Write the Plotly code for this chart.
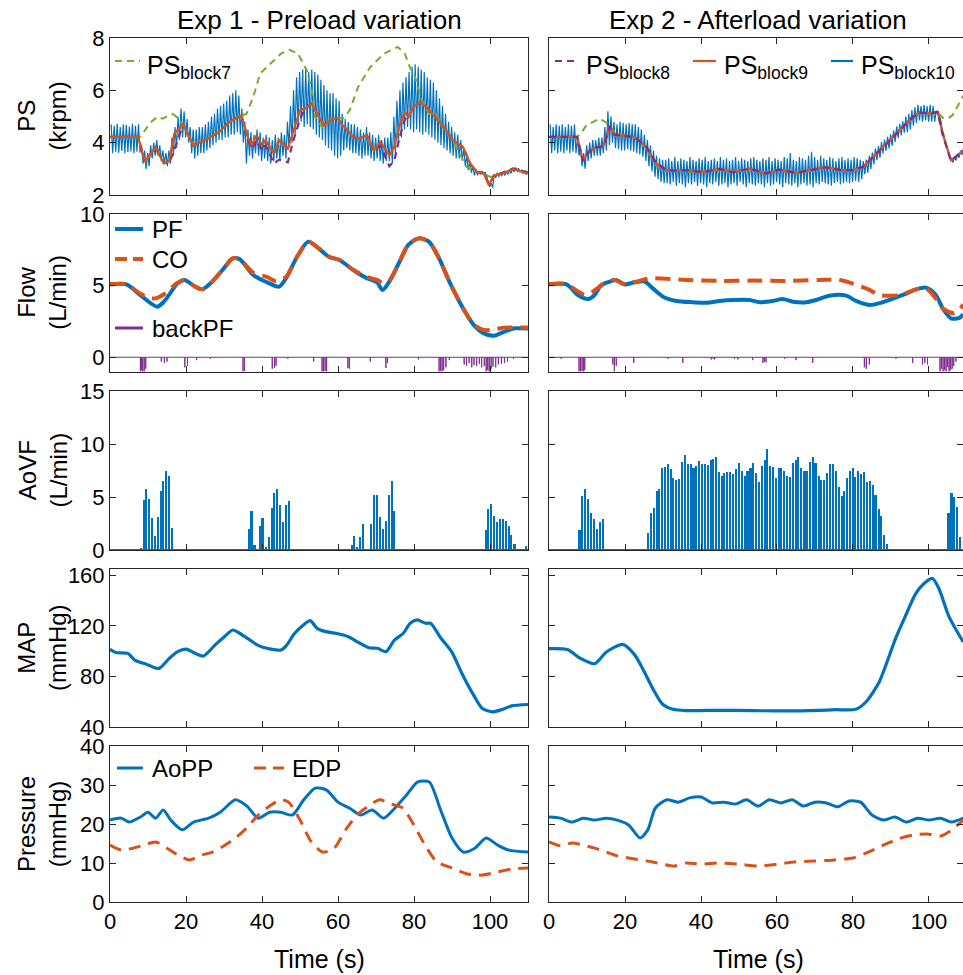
import numpy as np
import plotly.graph_objects as go

W, H = 963, 975
BLUE = '#0072BD'; ORANGE = '#D95319'; PURPLE = '#7E2F8E'; GREEN = '#77AC30'
AXC = '#262626'
FONT = 'Liberation Sans, Arial, sans-serif'

# ---------------- DATA ----------------
# PS (krpm), Exp 1
t_ps7_L = [0, 7.8, 9.2, 10.5, 12.4, 13.8, 16.5, 17.4, 19.2, 21.9, 25, 28.7, 31.4, 34.6, 35.9, 37.7, 39.5, 42.3, 45, 47.2,
           49.5, 51.8, 53.1, 54, 55.8, 58.6, 61.3, 63.1, 65.3, 68.5, 72.1, 75.7, 77.6, 78.9, 80.3, 82.1, 83.9, 85.7, 87.5, 90.2,
           93.8, 96.6, 98.4, 100.2, 101.5, 103.8, 106, 110]
ps7_L = [4.22, 4.22, 4.47, 4.75, 4.98, 4.92, 5.1, 5.0, 4.7, 3.95, 4.1, 4.42, 4.8, 5.04, 5.1, 5.75, 6.64, 7.02, 7.4, 7.55,
         7.4, 6.76, 6.0, 4.98, 4.6, 4.98, 4.92, 5.24, 6.13, 6.89, 7.4, 7.66, 7.4, 6.89, 6.5, 5.6, 5.1, 5.1, 4.6, 4.1,
         3.07, 2.88, 2.8, 2.69, 2.75, 2.88, 3.0, 2.88]
t_ps9_L = [0, 7.4, 9.2, 11.9, 14.2, 15.6, 16.9, 19.2, 21.9, 25, 28.7, 31.4, 34.6, 35.9, 37.3, 38.6, 40, 40.9, 43.2, 44.5,
           46.8, 48.1, 50, 51.3, 53.1, 54.5, 56.3, 58.6, 59.9, 61.3, 64, 65.3, 67.6, 69.4, 71.2, 73.5, 74.8, 76.2, 77.6, 78.5,
           79.8, 81.6, 83, 84.8, 87.5, 90.2, 92.9, 94.8, 96.6, 98.4, 99.7, 101.1, 103.3, 106, 110]
ps9_L = [4.22, 4.22, 3.26, 3.83, 3.2, 3.3, 4.34, 4.7, 3.9, 4.09, 4.4, 4.79, 5.04, 4.34, 3.9, 4.28, 3.9, 4.09, 3.58, 4.09,
         3.77, 4.34, 5.24, 5.3, 5.5, 5.1, 4.66, 4.92, 4.92, 4.66, 4.22, 4.15, 4.28, 3.7, 4.03, 3.52, 3.83, 4.66, 5.17, 4.98,
         5.36, 5.55, 5.4, 5.1, 4.66, 4.09, 3.83, 3.2, 2.88, 2.82, 2.37, 2.75, 2.82, 2.99, 2.82]
ps8_L = [4.22, 4.22, 3.28, 3.8, 3.22, 3.25, 3.7, 4.7, 3.9, 4.09, 4.4, 4.79, 5.04, 4.34, 3.75, 4.1, 3.7, 3.9, 3.2, 3.35,
         3.25, 4.0, 4.9, 5.3, 5.5, 5.1, 4.66, 4.92, 4.92, 4.66, 4.22, 4.15, 4.28, 3.7, 3.9, 3.1, 3.3, 4.2, 4.9, 4.98,
         5.36, 5.55, 5.4, 5.1, 4.66, 4.09, 3.83, 3.2, 2.88, 2.85, 2.4, 2.75, 2.85, 3.02, 2.85]
# PS block10 per-beat maxima / minima, Exp 1 (beat period 0.8 s)
ps10_hi_L = [4.7, 4.65, 4.72, 4.6, 4.7, 4.68, 4.62, 4.72, 4.65, 4.7,
             3.9, 3.7, 3.6, 3.9, 4.0, 4.1, 3.9, 3.7, 3.6, 3.7,
             4.2, 4.6, 5.0, 5.3, 5.2, 4.9, 4.6, 4.5, 4.5, 4.6, 4.6,
             4.7, 4.8, 5.0, 5.1, 5.3, 5.4, 5.5, 5.6, 5.8, 5.9, 6.0, 5.8, 5.3, 4.8,
             4.5, 4.4, 4.3, 4.5, 4.4, 4.2, 4.3, 4.2, 4.1, 4.3, 4.2, 4.4, 4.3,
             4.8, 5.4, 6.0, 6.5, 6.7, 6.8, 6.8, 6.7, 6.8, 6.7, 6.6, 6.4, 6.2, 6.0,
             5.9, 5.9, 5.7, 5.6, 5.1, 4.9, 4.8, 4.7,
             4.7, 4.6, 4.5, 4.4, 4.6, 4.4, 4.3, 4.2, 4.3, 4.1, 4.2,
             4.2, 4.4, 5.0, 5.6, 6.0, 6.3, 6.5, 6.7, 6.9, 7.0, 6.9, 6.8, 6.7, 6.5, 6.4, 6.3,
             6.0, 5.7, 5.4, 5.1, 4.8, 4.6, 4.4, 4.3, 4.1, 3.8, 3.5, 3.3, 3.1, 3.0,
             2.92, 2.9, 2.88, 2.5, 2.45, 2.8, 2.85, 2.86, 2.88, 2.9, 2.95, 3.0, 3.05, 3.02, 2.95, 2.9, 2.88]
ps10_lo_L = [3.6, 3.65, 3.62, 3.68, 3.6, 3.64, 3.66, 3.6, 3.65, 3.62,
             3.2, 3.0, 3.1, 3.4, 3.5, 3.5, 3.3, 3.2, 3.1, 3.2,
             3.5, 3.8, 4.1, 4.2, 4.2, 4.0, 3.6, 3.4, 3.5, 3.6, 3.6,
             3.7, 3.8, 3.9, 4.0, 4.1, 4.1, 4.2, 4.2, 4.3, 4.3, 4.4, 4.3, 4.0, 3.2,
             3.5, 3.4, 3.6, 3.5, 3.3, 3.4, 3.3, 3.2, 3.3, 3.4, 3.3, 3.5, 3.4,
             3.8, 4.0, 4.3, 4.6, 4.8, 4.6, 4.7, 4.6, 4.5, 4.3, 4.2, 4.1, 3.9, 3.8,
             3.7, 3.5, 3.4, 3.5, 3.7, 3.8, 3.7, 3.6,
             3.6, 3.5, 3.4, 3.5, 3.5, 3.4, 3.3, 3.4, 3.3, 3.2, 3.3,
             3.3, 3.2, 3.6, 4.0, 4.2, 4.5, 4.6, 4.5, 4.4, 4.5, 4.4, 4.3, 4.4, 4.3, 4.2, 4.1,
             4.0, 3.9, 3.8, 3.7, 3.6, 3.5, 3.4, 3.4, 3.3, 3.1, 2.95, 2.85, 2.75, 2.75,
             2.78, 2.76, 2.74, 2.3, 2.28, 2.66, 2.7, 2.72, 2.74, 2.78, 2.82, 2.88, 2.92, 2.9, 2.82, 2.78, 2.75]

# PS (krpm), Exp 2
t_ps7_R = [0, 7.4, 8.6, 9.8, 13.3, 15.5, 17.3, 19.5, 22.5, 25.6, 28.2, 30.9, 33.5, 36.1, 40.5, 44.9, 48.4, 52.8, 57.1, 60.6,
           65, 69.4, 72.9, 76.4, 79.9, 82.6, 86.1, 89.6, 93.1, 95.7, 97.5, 100.1, 102.3, 103.6, 104.9, 106.2, 108.4, 109]
ps7_R = [4.22, 4.22, 4.4, 4.66, 4.92, 4.73, 4.4, 4.3, 4.2, 3.8, 3.15, 2.92, 2.95, 2.9, 2.9, 2.98, 2.9, 2.98, 2.85, 2.94,
         2.86, 2.94, 3.05, 2.97, 2.93, 3.05, 3.6, 4.12, 4.62, 5.0, 5.15, 5.12, 5.15, 4.95, 4.92, 5.05, 5.62, 5.8]
t_ps9_R = [0, 7.4, 8.9, 10.3, 12.4, 14.2, 14.7, 16, 17.3, 19.5, 22.5, 25.6, 28.2, 30.9, 33.5, 36.1, 40.5, 44.9, 48.4, 52.8,
           57.1, 60.6, 65, 69.4, 72.9, 76.4, 79.9, 82.6, 86.1, 89.6, 93.1, 95.7, 97.5, 100.1, 102.3, 103.6, 105.8, 108, 109]
ps9_R = [4.22, 4.22, 3.32, 3.64, 3.83, 3.85, 4.05, 4.66, 4.28, 4.28, 4.22, 3.83, 3.2, 2.94, 2.92, 2.94, 2.88, 3.0, 2.88, 3.0,
         2.82, 2.96, 2.84, 2.96, 3.07, 2.95, 2.95, 3.07, 3.58, 4.09, 4.6, 4.98, 5.17, 5.1, 5.17, 4.34, 3.32, 3.58, 3.7]
ps8_R = [4.22, 4.22, 3.3, 3.62, 3.82, 3.86, 4.0, 4.62, 4.3, 4.27, 4.2, 3.85, 3.22, 2.95, 2.93, 2.95, 2.87, 3.0, 2.87, 3.01,
         2.83, 2.97, 2.85, 2.97, 3.06, 2.96, 2.95, 3.08, 3.56, 4.07, 4.6, 4.97, 5.16, 5.11, 5.17, 4.3, 3.3, 3.56, 3.7]
ps10_hi_R = [4.7, 4.6, 4.7, 4.65, 4.7, 4.6, 4.7, 4.65, 4.7,
             4.2, 3.8, 3.6, 3.9, 4.0, 4.1, 4.1, 4.2, 4.2, 4.6, 5.2, 5.0,
             4.8, 4.7, 4.8, 4.75, 4.7, 4.75, 4.7, 4.7, 4.6, 4.5,
             4.3, 4.1, 3.9, 3.7, 3.5, 3.4, 3.35,
             3.35, 3.4, 3.3, 3.45, 3.3, 3.4, 3.35, 3.3, 3.45, 3.35,
             3.3, 3.4, 3.35, 3.45, 3.3, 3.35, 3.4, 3.3, 3.45, 3.35,
             3.4, 3.3, 3.35, 3.45, 3.3, 3.4, 3.35, 3.3, 3.4, 3.45,
             3.35, 3.3, 3.4, 3.35, 3.45, 3.3, 3.4, 3.35, 3.3, 3.45,
             3.4, 3.6, 3.35, 3.3, 3.45, 3.4, 3.35, 3.5, 3.65, 3.45,
             3.35, 3.5, 3.4, 3.35, 3.45, 3.4, 3.3, 3.4, 3.45, 3.35,
             3.4, 3.35, 3.45, 3.4, 3.35,
             3.3, 3.35, 3.5, 3.62, 3.77, 3.87, 4.02, 4.12, 4.22, 4.32, 4.47, 4.62, 4.72, 4.82,
             5.0, 5.1, 5.25, 5.35, 5.45, 5.4, 5.45, 5.4, 5.45, 5.4,
             5.23, 5.03, 4.48, 4.03, 3.63, 3.4, 3.48, 3.58, 3.7, 3.8]
ps10_lo_R = [3.6, 3.7, 3.6, 3.65, 3.6, 3.7, 3.6, 3.65, 3.6,
             3.5, 3.1, 3.0, 3.3, 3.4, 3.5, 3.5, 3.5, 3.6, 3.7, 3.9, 4.0,
             3.8, 3.75, 3.7, 3.7, 3.75, 3.7, 3.65, 3.6, 3.55, 3.45,
             3.3, 3.1, 2.9, 2.7, 2.6, 2.5, 2.45,
             2.45, 2.4, 2.5, 2.35, 2.45, 2.4, 2.3, 2.45, 2.4, 2.5,
             2.35, 2.45, 2.4, 2.3, 2.45, 2.4, 2.5, 2.35, 2.4, 2.45,
             2.3, 2.4, 2.45, 2.35, 2.5, 2.4, 2.3, 2.45, 2.4, 2.35,
             2.45, 2.4, 2.3, 2.45, 2.35, 2.4, 2.5, 2.4, 2.3, 2.45,
             2.4, 2.35, 2.45, 2.3, 2.4, 2.45, 2.35, 2.4, 2.3, 2.45,
             2.4, 2.5, 2.45, 2.4, 2.35, 2.45, 2.5, 2.4, 2.45, 2.5,
             2.45, 2.5, 2.55, 2.5, 2.6,
             2.8, 2.85, 3.0, 3.18, 3.33, 3.43, 3.58, 3.68, 3.78, 3.88, 4.03, 4.18, 4.28, 4.38,
             4.4, 4.5, 4.65, 4.75, 4.85, 4.8, 4.85, 4.8, 4.8, 4.8,
             5.07, 4.87, 4.32, 3.87, 3.47, 3.24, 3.32, 3.42, 3.54, 3.64]
BEAT0, BEAT = 0.3, 0.8

# Flow (L/min)
t_pf_L = [0, 4.3, 7.9, 12.4, 14.2, 17.8, 19.6, 22.4, 24.2, 26.9, 29.6, 32.3, 34.1, 37.7, 41.4, 44.5, 46.3, 49.5, 52.2, 54.9,
          57.6, 60.4, 64, 67.6, 70.3, 71.7, 73.5, 76.2, 78.5, 81.2, 83.9, 86.6, 89.3, 92.9, 95.7, 98.4, 101.1, 103.8, 106.5, 110]
pf_L = [5.09, 5.09, 4.35, 3.53, 3.88, 5.16, 5.4, 4.93, 4.74, 5.28, 6.09, 6.9, 6.85, 5.74, 5.23, 4.93, 5.51, 7.14, 8.07, 7.6,
        7.02, 6.79, 6.09, 5.51, 5.23, 4.7, 5.28, 6.67, 7.84, 8.3, 8.07, 6.9, 5.28, 3.42, 2.26, 1.67, 1.51, 1.79, 2.02, 2.0]
t_co_L = [0, 4.3, 7.9, 10.6, 12.4, 14.2, 17.8, 19.6, 22.4, 24.2, 26.9, 29.6, 32.3, 34.1, 37.7, 41.4, 43.8, 46.3, 49.5, 52.2,
          54.9, 57.6, 60.4, 64, 67.6, 70.3, 71.7, 73.5, 76.2, 78.5, 81.2, 83.9, 86.6, 89.3, 92.9, 95.7, 98.4, 101.1, 103.8, 106.5, 110]
co_L = [5.09, 5.09, 4.45, 4.12, 4.15, 4.4, 5.2, 5.4, 4.93, 4.74, 5.28, 6.09, 6.9, 6.85, 5.9, 5.6, 5.3, 5.6, 7.14, 8.07,
        7.6, 7.02, 6.79, 6.1, 5.6, 5.4, 5.2, 5.35, 6.67, 7.84, 8.3, 8.07, 6.9, 5.28, 3.42, 2.3, 1.9, 1.95, 2.07, 2.07, 2.07]
t_pf_R = [0, 4.6, 7.6, 10.3, 12, 13.8, 16, 17.7, 19.9, 22.5, 25.2, 27.3, 30, 33.5, 37.9, 41.4, 44.9, 48.4, 52.8, 55.4,
          58.9, 61.5, 64.2, 67.7, 70.3, 73.8, 78.2, 80.8, 84.3, 87.8, 93.1, 96.6, 99.2, 101.8, 103.6, 105.8, 108, 109]
pf_R = [5.09, 5.09, 4.35, 4.07, 4.35, 5.05, 5.28, 5.4, 5.09, 5.23, 5.28, 4.81, 4.23, 3.93, 3.84, 3.8, 3.93, 4.0, 4.0, 3.84,
        3.93, 4.07, 3.88, 3.84, 4.0, 4.3, 4.3, 3.93, 3.65, 3.84, 4.35, 4.74, 4.86, 4.35, 3.42, 2.72, 2.75, 3.0]
t_co_R = [0, 4.6, 7.6, 9.4, 11.6, 14, 17.3, 19.9, 22.5, 26.5, 36.1, 45, 53.6, 62.4, 71.2, 76.4, 79, 84.3, 86.9, 92.6,
          96.6, 99.2, 101.8, 103.6, 106.6, 108.3, 109]
co_R = [5.09, 5.09, 4.6, 4.35, 4.6, 5.05, 5.4, 5.09, 5.23, 5.51, 5.4, 5.33, 5.35, 5.33, 5.4, 5.4, 5.23, 4.7, 4.35, 4.35,
        4.74, 4.81, 4.1, 3.42, 3.07, 3.4, 3.7]
t_bpf_L = [8.0, 8.3, 8.6, 9.0, 9.4, 13.5, 14.3, 15.0, 19.7, 20.4, 22.8, 26.4, 35.0, 35.4, 42.7, 43.3, 43.7, 46.8, 53.6, 55.8,
           56.2, 56.6, 57.0, 62.6, 63.0, 68.5, 72.6, 73.0, 81.2, 86.6, 87.0, 87.4, 87.8, 88.4, 89.3, 93.2, 93.8, 94.5, 95.2, 95.8,
           96.5, 97.2, 97.8, 98.5, 99.0, 99.4, 99.8, 100.3, 100.8, 101.5, 102.2, 103.0, 103.8, 104.6, 106.2]
bpf_L = [-1.0, -0.9, -1.0, -1.0, -0.8, -0.3, -0.4, -0.3, -0.7, -0.6, -0.2, -0.1, -1.0, -0.95, -0.8, -0.75, -0.6, -0.1, -0.3, -1.0,
         -1.0, -0.95, -1.0, -0.75, -0.8, -0.3, -0.75, -0.4, -0.15, -1.0, -0.95, -1.0, -0.9, -0.7, -0.2, -0.5, -0.6, -0.4, -0.7, -0.55,
         -0.6, -0.45, -0.7, -0.6, -1.0, -0.9, -1.0, -0.8, -0.65, -0.7, -0.5, -0.45, -0.4, -0.3, -0.1]
t_bpf_R = [3.2, 7.9, 8.3, 8.7, 9.1, 9.4, 16.8, 17.2, 17.7, 22.3, 31.3, 35.2, 42.7, 43.2, 43.6, 48.8, 49.7, 53.6, 56.3, 56.7,
           57.1, 62.0, 65.0, 69.4, 83.0, 83.5, 84.3, 91.3, 95.7, 98.3, 98.9, 99.6, 102.9, 103.3, 103.7, 104.1, 104.5, 104.9, 105.3, 105.7,
           106.1, 106.5, 107.1]
bpf_R = [-0.1, -1.0, -1.0, -0.95, -1.0, -0.9, -0.5, -1.0, -0.6, -0.4, -0.1, -0.4, -0.15, -0.1, -0.15, -0.1, -0.15, -0.2, -0.4, -0.3,
         -0.35, -0.1, -0.2, -0.4, -0.7, -0.8, -0.5, -0.1, -0.4, -0.5, -0.4, -0.5, -1.0, -0.8, -1.0, -0.9, -1.0, -0.7, -1.0, -0.9,
         -0.8, -0.6, -0.3]

# AoVF (L/min), per-beat peaks
t_aovf_L = [8.2, 9.0, 9.6, 10.3, 11.1, 11.9, 12.7, 13.4, 14.1, 14.8, 15.6, 16.3,
            36.6, 37.3, 38.1, 39.5, 40.2, 41.0, 41.8, 42.6, 43.3, 44.1, 44.8, 45.5, 46.4, 47.2,
            63.7, 64.3, 65.1, 65.9, 66.7, 68.8, 69.6, 70.4, 71.2, 72.0, 72.7, 73.5, 74.2, 74.9,
            98.9, 99.6, 100.4, 101.2, 101.9, 102.6, 103.4, 104.2, 105.0, 105.7, 106.5, 109.5]
aovf_L = [0.1, 4.7, 5.8, 4.8, 3.0, 1.3, 3.1, 5.6, 6.5, 7.5, 7.0, 2.1,
          2.0, 3.7, 0.5, 2.3, 3.0, 0.3, 1.2, 4.0, 5.4, 5.8, 4.2, 2.6, 4.2, 4.6,
          0.5, 1.3, 0.3, 1.2, 2.5, 2.5, 5.2, 5.2, 3.1, 2.0, 2.7, 5.2, 6.5, 3.7,
          1.9, 3.9, 4.3, 3.2, 2.6, 2.9, 2.9, 2.7, 2.3, 1.4, 0.6, 0.35]
t_aovf_R = [8.1, 8.8, 9.6, 10.4, 11.1, 11.9, 12.7, 13.4, 14.2,
            26.0, 26.8, 27.6, 28.4, 29.1, 29.9, 30.6, 31.3, 32.1, 32.8, 33.6, 34.3, 35.0, 35.8, 36.6, 37.4, 38.1, 38.8, 39.6, 40.3,
            41.1, 41.8, 42.6, 43.3, 44.0, 44.7, 45.5, 46.2, 47.0, 47.7, 48.5, 49.2, 50.0, 50.8, 51.6, 52.3, 53.1, 53.8, 54.5, 55.3,
            56.0, 56.8, 57.5, 58.3, 59.1, 59.8, 60.5, 61.2, 62.0, 62.7, 63.5, 64.3, 65.0, 65.7, 66.5, 67.3, 68.0, 68.8, 69.5, 70.2,
            71.0, 71.7, 72.4, 73.2, 73.9, 74.7, 75.5, 76.3, 77.1, 77.8, 78.5, 79.3, 80.0, 80.7, 81.5, 82.2, 83.0, 83.8, 84.5, 85.3,
            86.0, 86.8, 87.5, 88.3, 89.0,
            105.2, 106.0, 106.7, 107.5, 108.3]
aovf_R = [1.9, 5.1, 5.8, 4.8, 3.5, 2.9, 2.0, 2.6, 2.9,
          1.65, 3.5, 4.0, 5.6, 5.8, 7.7, 7.8, 8.1, 7.6, 6.8, 6.6, 6.7, 8.3, 9.0, 8.1, 8.1, 7.7, 7.9, 8.4, 8.1,
          8.1, 8.0, 8.5, 8.6, 8.8, 7.4, 7.0, 7.3, 7.4, 7.4, 7.2, 7.6, 8.2, 7.5, 7.0, 7.5, 7.7, 8.2, 7.3, 6.4,
          7.9, 8.5, 9.5, 7.9, 7.8, 6.8, 7.7, 7.7, 7.5, 7.0, 6.9, 8.2, 8.5, 8.8, 7.7, 7.5, 7.5, 8.3, 8.8, 8.2,
          7.0, 6.6, 6.6, 7.3, 8.1, 8.1, 7.5, 5.9, 5.1, 5.6, 6.8, 7.5, 7.7, 6.9, 7.5, 7.2, 7.4, 6.4, 6.5, 6.1,
          5.2, 3.9, 3.2, 1.4, 0.6,
          3.5, 5.4, 5.0, 4.1, 1.2]

# MAP (mmHg)
t_map_L = [0, 1.5, 4.7, 6.5, 9.7, 12.9, 15.6, 17.8, 20.1, 22.4, 24.6, 27.8, 30.1, 32.3, 34.1, 36.4, 39.1, 42.3, 45.0, 46.4,
           48.6, 50.9, 52.7, 54.5, 56.8, 59.5, 62.7, 65.4, 68.1, 70.4, 72.6, 74.9, 77.2, 79.0, 80.8, 83.1, 84.4, 87.1, 89.9, 92.6,
           95.7, 98.0, 100.7, 103.4, 105.7, 110]
map_L = [101.5, 99, 98.3, 93, 89.5, 86.4, 94.3, 99.6, 101.7, 98.3, 96.2, 105.4, 111.5, 116.8, 114.2, 109.7, 104.4, 101.7, 100.9, 104.4,
         114.2, 120.8, 124.2, 118.1, 115.5, 114.2, 111.5, 107, 102.8, 102.3, 99.6, 108.9, 114.2, 122.1, 124.8, 122.1, 122.1, 110.2, 99.6, 82.4,
         65.2, 54.6, 52.0, 54.1, 56.7, 57.8]
t_map_R = [0, 5.0, 8.1, 12.0, 15.1, 19.4, 22.5, 25.1, 27.3, 29.9, 32.6, 36.1, 44.8, 53.6, 62.3, 71.1, 75.5, 80.7, 83.4, 86.9,
           91.2, 93.9, 96.5, 98.7, 100.9, 102.6, 105.3, 109]
map_R = [102, 101.2, 94.6, 90.1, 99.4, 105.4, 97.3, 83.6, 70.4, 58, 54, 53, 53.2, 53, 52.7, 53.2, 53.7, 54, 59.8, 75.7,
         110, 128.5, 145.6, 153.6, 157.6, 149.6, 127.2, 107.4]

# Pressure (mmHg)
t_aopp_L = [0, 3, 5, 8, 10, 12, 14, 16, 19, 22, 26, 29, 33, 36, 39, 42, 45, 48, 51, 54,
            57, 60, 63, 66, 69, 72, 75, 78, 81, 84, 87, 90, 93, 96, 99, 102, 105, 110]
aopp_L = [21, 21.5, 20.5, 21.8, 23, 21.5, 23.6, 21, 18.5, 20.5, 21.5, 23, 26.2, 24.6, 21.5, 23, 23, 22.3, 26.2, 29.2,
          28.7, 25.6, 24.1, 22.3, 23.6, 21.5, 24.1, 27.4, 30.8, 30.8, 23.6, 16.4, 12.8, 13.8, 16.4, 14.6, 13.3, 12.8]
t_edp_L = [0, 3, 6, 9, 12, 15, 18, 21, 24, 27, 30, 33, 36, 39, 42, 45, 47, 50, 53, 56,
           59, 62, 65, 68, 71, 74, 77, 80, 83, 86, 90, 94, 98, 102, 106, 110]
edp_L = [14.6, 13.3, 13.8, 14.6, 15.4, 13.8, 12, 10.8, 12, 12.8, 14.4, 16.4, 19, 22.3, 24.6, 26.2, 25.6, 21, 15.4, 12.8,
         13.8, 18.5, 22.3, 24.6, 26.2, 25.1, 24.1, 19.7, 14.4, 10.3, 8.7, 7.2, 6.9, 7.7, 8.5, 8.7]
t_aopp_R = [0, 3, 6, 9, 12, 15, 18, 21, 24, 26, 28, 31, 34, 37, 40, 43, 46, 49, 52, 55,
            58, 61, 64, 67, 70, 73, 76, 79, 82, 85, 88, 91, 94, 97, 100, 103, 106, 109]
aopp_R = [21.8, 21.5, 20.5, 21.5, 21, 21.5, 21, 19.7, 16.4, 18.5, 24.1, 26.2, 25.6, 26.7, 26.9, 25.4, 25.6, 25.1, 26.2, 24.6,
          26.2, 25.4, 26.2, 24.6, 25.6, 25.4, 24.4, 25.9, 25.6, 22.3, 21, 21.8, 20.5, 21.5, 21, 21.5, 20.5, 21.5]
t_edp_R = [0, 3, 6, 9, 12, 15, 18, 21, 24, 27, 30, 33, 36, 40, 45, 50, 55, 60, 65, 70,
           75, 80, 84, 88, 92, 96, 100, 103, 106, 109]
edp_R = [15.4, 14.4, 15.1, 14.6, 13.8, 12.8, 11.8, 11.3, 10.8, 10.3, 9.7, 9.2, 10, 9.7, 10, 9.7, 9.2, 9.7, 10.3, 10.5,
         10.8, 11.3, 12.8, 14.6, 16.2, 17.2, 17.4, 16.9, 18.5, 21]

X_TICKS = [0, 20, 40, 60, 80, 100]
Y_TICKS = [[2, 4, 6, 8], [0, 5, 10], [0, 5, 10, 15], [40, 80, 120, 160], [0, 10, 20, 30, 40]]
Y_RANGES = [[2, 8], [-1, 10], [0, 15], [40, 165], [0, 40]]
X_RANGES = [[0, 110], [0, 108.95]]
Y_LABELS = ['PS<br>(krpm)', 'Flow<br>(L/min)', 'AoVF<br>(L/min)', 'MAP<br>(mmHg)', 'Pressure<br>(mmHg)']
TITLES = ['Exp 1 - Preload variation', 'Exp 2 - Afterload variation']

# ---------------- LAYOUT ----------------
COLS = [(110, 528), (549, 963)]
ROWS = [(38, 195), (214, 371.6), (391, 550), (569.1, 727), (746, 902)]
TICK_SIZE, LABEL_SIZE, TITLE_SIZE, XLAB_SIZE, LEG_SIZE, PSLEG_SIZE = 22, 24, 26, 25, 24, 25


def fx(px):
    return px / W


def fy(px):
    return 1 - px / H


def idx(r, c):
    return r * 2 + c + 1


def xref(i):
    return 'x' if i == 1 else f'x{i}'


def yref(i):
    return 'y' if i == 1 else f'y{i}'


fig = go.Figure()


def add(r, c, x, y, **kw):
    i = idx(r, c)
    fig.add_trace(go.Scatter(x=x, y=y, xaxis=xref(i), yaxis=yref(i), mode='lines',
                             showlegend=False, hoverinfo='skip', **kw))


def beats(hi, lo):
    xs, ys = [], []
    for k in range(len(hi)):
        t = BEAT0 + BEAT * k
        xs += [t, t + BEAT / 2]
        ys += [hi[k], lo[k]]
    return xs, ys


def spikes(ts, vs, t_end):
    xs, ys = [0], [0]
    for t, v in zip(ts, vs):
        xs += [t, t, t]
        ys += [0, v, 0]
    xs.append(t_end)
    ys.append(0)
    return xs, ys


# Row 1: PS
bx, by = beats(ps10_hi_L, ps10_lo_L)
add(0, 0, bx, by, line=dict(color=BLUE, width=1.2))
add(0, 0, t_ps7_L, ps7_L, line=dict(color=GREEN, width=2, dash='7px,5px'))
add(0, 0, t_ps9_L, ps8_L, line=dict(color=PURPLE, width=2.2, dash='7px,5px'))
add(0, 0, t_ps9_L, ps9_L, line=dict(color=ORANGE, width=2.2))
bx, by = beats(ps10_hi_R, ps10_lo_R)
add(0, 1, bx, by, line=dict(color=BLUE, width=1.2))
add(0, 1, t_ps7_R, ps7_R, line=dict(color=GREEN, width=2, dash='7px,5px'))
add(0, 1, t_ps9_R, ps9_R, line=dict(color=ORANGE, width=2.2))
add(0, 1, t_ps9_R, ps8_R, line=dict(color=PURPLE, width=2.2, dash='7px,5px'))

# Row 2: Flow
sx, sy = spikes(t_bpf_L, bpf_L, 110)
add(1, 0, sx, sy, line=dict(color=PURPLE, width=1))
add(1, 0, t_pf_L, pf_L, line=dict(color=BLUE, width=4, shape='spline', smoothing=0.8))
add(1, 0, t_co_L, co_L, line=dict(color=ORANGE, width=4, dash='15px,8px', shape='spline', smoothing=0.8))
sx, sy = spikes(t_bpf_R, bpf_R, 109)
add(1, 1, sx, sy, line=dict(color=PURPLE, width=1))
add(1, 1, t_pf_R, pf_R, line=dict(color=BLUE, width=4, shape='spline', smoothing=0.8))
add(1, 1, t_co_R, co_R, line=dict(color=ORANGE, width=4, dash='15px,8px', shape='spline', smoothing=0.8))

# Row 3: AoVF
for c, (ts, vs, te) in enumerate([(t_aovf_L, aovf_L, 110), (t_aovf_R, aovf_R, 109)]):
    i = idx(2, c)
    fig.add_trace(go.Bar(x=ts, y=vs, width=0.42, marker=dict(color=BLUE, line=dict(width=0)),
                         xaxis=xref(i), yaxis=yref(i), showlegend=False, hoverinfo='skip'))
    add(2, c, [0, te], [0, 0], line=dict(color=BLUE, width=2))

# Row 4: MAP
add(3, 0, t_map_L, map_L, line=dict(color=BLUE, width=3.2, shape='spline', smoothing=0.7))
add(3, 1, t_map_R, map_R, line=dict(color=BLUE, width=3.2, shape='spline', smoothing=0.7))

# Row 5: Pressure
add(4, 0, t_aopp_L, aopp_L, line=dict(color=BLUE, width=3, shape='spline', smoothing=0.7))
add(4, 0, t_edp_L, edp_L, line=dict(color=ORANGE, width=3, dash='12px,8px', shape='spline', smoothing=0.7))
add(4, 1, t_aopp_R, aopp_R, line=dict(color=BLUE, width=3, shape='spline', smoothing=0.7))
add(4, 1, t_edp_R, edp_R, line=dict(color=ORANGE, width=3, dash='12px,8px', shape='spline', smoothing=0.7))

layout = dict(width=W, height=H, margin=dict(l=0, r=0, t=0, b=0),
              paper_bgcolor='white', plot_bgcolor='white',
              font=dict(family=FONT, color='#000000', size=TICK_SIZE), bargap=0, barmode='overlay')
for r in range(5):
    for c in range(2):
        i = idx(r, c)
        common = dict(ticks='inside', ticklen=6, tickwidth=1, tickcolor=AXC, showline=True, linecolor=AXC,
                      linewidth=1, mirror='ticks', showgrid=False, zeroline=False,
                      tickfont=dict(family=FONT, size=TICK_SIZE, color='#000000'), automargin=False)
        layout['xaxis' if i == 1 else f'xaxis{i}'] = dict(
            domain=[fx(COLS[c][0]), fx(COLS[c][1])], anchor=yref(i), range=X_RANGES[c],
            tickvals=X_TICKS, showticklabels=(r == 4), **common)
        layout['yaxis' if i == 1 else f'yaxis{i}'] = dict(
            domain=[fy(ROWS[r][1]), fy(ROWS[r][0])], anchor=xref(i), range=Y_RANGES[r],
            tickvals=Y_TICKS[r], showticklabels=(c == 0), **common)

ann = []
shapes = []
for c in range(2):
    cx = (COLS[c][0] + 418 / 2) / W
    ann.append(dict(text=TITLES[c], x=cx, y=fy(20), xref='paper', yref='paper', showarrow=False,
                    xanchor='center', yanchor='middle', font=dict(size=TITLE_SIZE)))
    ann.append(dict(text='Time (s)', x=cx, y=fy(959), xref='paper', yref='paper', showarrow=False,
                    xanchor='center', yanchor='middle', font=dict(size=XLAB_SIZE)))
for r in range(5):
    cy = fy((ROWS[r][0] + ROWS[r][1]) / 2)
    ann.append(dict(text=Y_LABELS[r], x=fx(42), y=cy, xref='paper', yref='paper', showarrow=False,
                    textangle=-90, xanchor='center', yanchor='middle', font=dict(size=LABEL_SIZE)))


def legend_item(x0, x1, y, color, width, dash, label, tx, ty=None, size=LEG_SIZE):
    shapes.append(dict(type='line', xref='paper', yref='paper', x0=fx(x0), x1=fx(x1), y0=fy(y), y1=fy(y),
                       line=dict(color=color, width=width, dash=dash)))
    ann.append(dict(text=label, x=fx(tx), y=fy(y if ty is None else ty), xref='paper', yref='paper',
                    showarrow=False, xanchor='left', yanchor='middle', font=dict(size=size)))


legend_item(115, 140, 61, GREEN, 2.2, '7px,5px', 'PS<sub>block7</sub>', 145, 67, PSLEG_SIZE)
legend_item(555, 578, 61, PURPLE, 2.2, '7px,5px', 'PS<sub>block8</sub>', 584, 67, PSLEG_SIZE)
legend_item(693, 716, 61, ORANGE, 2.2, 'solid', 'PS<sub>block9</sub>', 722, 67, PSLEG_SIZE)
legend_item(831, 853, 61, BLUE, 2.2, 'solid', 'PS<sub>block10</sub>', 859, 67, PSLEG_SIZE)
legend_item(115, 143, 229, BLUE, 4, 'solid', 'PF', 150)
legend_item(115, 143, 259, ORANGE, 4, '12px,6px', 'CO', 150)
legend_item(115, 143, 328, PURPLE, 3, 'solid', 'backPF', 150)
legend_item(117, 143, 768, BLUE, 3, 'solid', 'AoPP', 150)
legend_item(254, 284, 768, ORANGE, 3, '12px,7px', 'EDP', 290)

layout['annotations'] = ann
layout['shapes'] = shapes
fig.update_layout(**layout)
fig.write_html('out.html', config={'displayModeBar': False},
               post_script="document.body.style.margin='0';document.body.style.overflow='hidden';")
